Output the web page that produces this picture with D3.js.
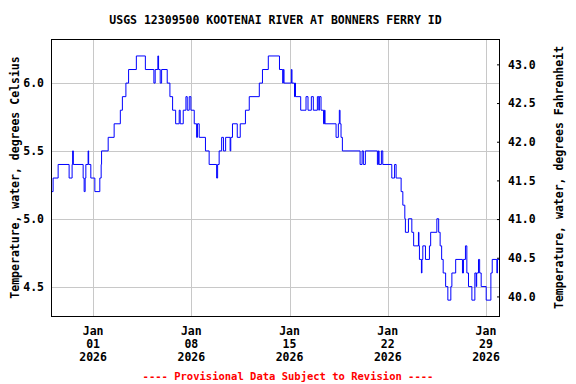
<!DOCTYPE html>
<html>
<head>
<meta charset="utf-8">
<script src="https://cdn.jsdelivr.net/npm/d3@7"></script>
<style>
  body { margin: 0; background: #fff; }
  svg { display: block; }
  text { font-family: 'DejaVu Sans Mono', monospace; font-weight: bold; font-size: 11.5px; }
</style>
</head>
<body>
<svg id="chart" width="576" height="384"></svg>
<script>
// readings, hours after 2025-12-29 00:00 (step changes only)
const hours = [
  0, 3.6, 12.2, 31.0, 36.1, 37.0, 38.2, 55.0, 56.7, 58.4, 59.6, 63.5, 64.4, 68.1, 75.0,
  83.5, 85.8, 86.5, 97.8, 108.0, 118.6, 122.1, 128.1, 132.7, 146.0, 161.4, 176.0, 178.2,
  182.8, 184.0, 186.8, 189.2, 198.8, 203.4, 208.0, 213.2, 219.3, 221.0, 226.2, 230.8,
  233.0, 236.4, 239.3, 245.0, 249.1, 250.5, 253.5, 264.2, 270.5, 283.3, 285.0, 287.6,
  291.9, 295.0, 298.7, 306.4, 307.5, 310.4, 318.6, 323.7, 332.6, 339.1, 356.3, 361.7,
  371.7, 390.8, 396.3, 397.4, 398.6, 411.1, 412.2, 416.5, 417.4, 418.2, 427.1, 436.2,
  439.6, 445.3, 448.7, 455.6, 458.1, 459.0, 461.9, 466.2, 467.9, 468.7, 487.6, 491.5,
  493.2, 494.4, 496.1, 498.4, 528.7, 532.1, 534.3, 537.7, 558.3, 560.0, 561.2, 565.1,
  567.5, 582.9, 587.7, 590.3, 598.9, 601.8, 605.2, 606.2, 611.4, 617.2, 620.3, 628.5,
  629.3, 630.2, 633.6, 634.5, 636.0, 640.5, 647.3, 649.4, 660.0, 663.1, 665.6, 668.2,
  670.8, 675.0, 678.8, 683.9, 685.7, 692.2, 703.8, 705.5, 708.9, 711.3, 714.1, 719.9,
  725.0, 727.3, 728.1, 731.2, 733.2, 735.8, 744.4, 752.4, 754.7, 762.7, 763.6, 768.0
];
const tempC = [
  5.2, 5.3, 5.4, 5.3, 5.4, 5.5, 5.4, 5.3, 5.2, 5.3, 5.4, 5.5, 5.4, 5.3, 5.2,
  5.3, 5.4, 5.5, 5.6, 5.7, 5.8, 5.9, 6.0, 6.1, 6.2, 6.1, 6.0, 6.1,
  6.2, 6.1, 6.0, 6.1, 6.0, 5.9, 5.8, 5.7, 5.8, 5.7, 5.8, 5.9,
  5.8, 5.9, 5.8, 5.7, 5.6, 5.7, 5.6, 5.5, 5.4, 5.3, 5.4, 5.5,
  5.6, 5.5, 5.6, 5.5, 5.6, 5.7, 5.6, 5.7, 5.8, 5.9, 6.0, 6.1,
  6.2, 6.1, 6.0, 6.1, 6.0, 6.1, 6.0, 5.9, 6.0, 5.9, 5.8, 5.9,
  5.8, 5.9, 5.8, 5.9, 5.8, 5.9, 5.8, 5.7, 5.8, 5.7, 5.6, 5.7,
  5.8, 5.7, 5.6, 5.5, 5.4, 5.5, 5.4, 5.5, 5.4, 5.5, 5.4, 5.5,
  5.4, 5.3, 5.4, 5.3, 5.2, 5.1, 5.0, 4.9, 5.0, 4.9, 4.8, 4.9,
  4.8, 4.7, 4.6, 4.7, 4.8, 4.7, 4.8, 4.9, 5.0, 4.9, 4.8, 4.7,
  4.6, 4.5, 4.4, 4.5, 4.6, 4.7, 4.6, 4.7, 4.8, 4.6, 4.5, 4.4,
  4.6, 4.5, 4.6, 4.7, 4.6, 4.5, 4.4, 4.6, 4.7, 4.6, 4.7, 4.7
];

const startDate = new Date(2025, 11, 29);
const endDate = new Date(2026, 0, 30);
const celsiusTicks = [4.5, 5.0, 5.5, 6.0];
const fahrenheitTicks = [40.0, 40.5, 41.0, 41.5, 42.0, 42.5, 43.0];
const dateTicks = [new Date(2026, 0, 1), new Date(2026, 0, 8), new Date(2026, 0, 15),
  new Date(2026, 0, 22), new Date(2026, 0, 29)];

const title = 'USGS 12309500 KOOTENAI RIVER AT BONNERS FERRY ID';

const margin = { top: 39, right: 76, bottom: 68, left: 51 },
  width = 576 - margin.left - margin.right,
  height = 384 - margin.top - margin.bottom;

const data = hours.map((h, i) => ({
  time: new Date(startDate.getTime() + h * 3600 * 1000),
  value: tempC[i]
}));

const xScale = d3.scaleTime().domain([startDate, endDate]).range([0, width]);
const yScale = d3.scaleLinear().domain([4.283, 6.325]).range([height, 0]);
const yScaleF = d3.scaleLinear().domain([39.747, 43.328]).range([height, 0]);

const root = d3.select('#chart');

root
  .append('text')
  .attr('x', margin.left + width / 2)
  .attr('y', 24)
  .attr('text-anchor', 'middle')
  .text(title);

const svg = root
  .append('g')
  .attr('transform', 'translate(' + margin.left + ',' + margin.top + ')');

// grid
svg
  .append('g')
  .selectAll('line')
  .data(celsiusTicks)
  .enter()
  .append('line')
  .attr('x1', 0)
  .attr('x2', width)
  .attr('y1', d => Math.round(yScale(d)) + 0.5)
  .attr('y2', d => Math.round(yScale(d)) + 0.5)
  .attr('stroke', '#c8c8c8');

svg
  .append('g')
  .selectAll('line')
  .data(dateTicks)
  .enter()
  .append('line')
  .attr('x1', d => Math.round(xScale(d)) + 0.5)
  .attr('x2', d => Math.round(xScale(d)) + 0.5)
  .attr('y1', 0)
  .attr('y2', height)
  .attr('stroke', '#c8c8c8');

// data line
const line = d3
  .line()
  .x(d => xScale(d.time))
  .y(d => yScale(d.value))
  .curve(d3.curveStepAfter);

svg
  .append('path')
  .datum(data)
  .attr('fill', 'none')
  .attr('stroke', '#0000ff')
  .attr('stroke-width', 1)
  .attr('d', line);

// left axis
const yAxis = svg
  .append('g')
  .call(d3.axisLeft(yScale).tickValues(celsiusTicks).tickFormat(d3.format('.1f')).tickSize(0).tickPadding(7));
yAxis.select('.domain').remove();
yAxis.selectAll('text').attr('font-family', null).attr('font-size', null).attr('fill', '#000');

// right axis, inward ticks
const yAxisF = svg
  .append('g')
  .attr('transform', `translate(${width},0)`)
  .call(d3.axisRight(yScaleF).tickValues(fahrenheitTicks).tickFormat(d3.format('.1f')).tickSize(-3).tickPadding(8));
yAxisF.select('.domain').remove();
yAxisF.selectAll('line').attr('stroke', '#000');
yAxisF.selectAll('text').attr('font-family', null).attr('font-size', null).attr('fill', '#000');

// bottom labels
const fmtMon = d3.timeFormat('%b'), fmtDay = d3.timeFormat('%d'), fmtYear = d3.timeFormat('%Y');
const xLabels = svg
  .append('g')
  .selectAll('text')
  .data(dateTicks)
  .enter()
  .append('text')
  .attr('text-anchor', 'middle')
  .attr('transform', d => `translate(${xScale(d)},${height + 19})`);
xLabels.append('tspan').attr('x', 0).attr('y', 0).text(d => fmtMon(d));
xLabels.append('tspan').attr('x', 0).attr('y', 13).text(d => fmtDay(d));
xLabels.append('tspan').attr('x', 0).attr('y', 26).text(d => fmtYear(d));

// frame
svg
  .append('rect')
  .attr('x', 0.5)
  .attr('y', 0.5)
  .attr('width', width - 1)
  .attr('height', height)
  .attr('fill', 'none')
  .attr('stroke', '#000');

// axis titles
root
  .append('text')
  .attr('transform', `translate(19,${margin.top + height / 2}) rotate(-90)`)
  .attr('text-anchor', 'middle')
  .text('Temperature, water, degrees Celsius');

root
  .append('text')
  .attr('transform', `translate(563,${margin.top + height / 2}) rotate(-90)`)
  .attr('text-anchor', 'middle')
  .text('Temperature, water, degrees Fahrenheit');

root
  .append('text')
  .attr('x', 288)
  .attr('y', 380)
  .attr('text-anchor', 'middle')
  .attr('fill', '#ff0000')
  .style('font-size', '10.5px')
  .text('---- Provisional Data Subject to Revision ----');
</script>
</body>
</html>
